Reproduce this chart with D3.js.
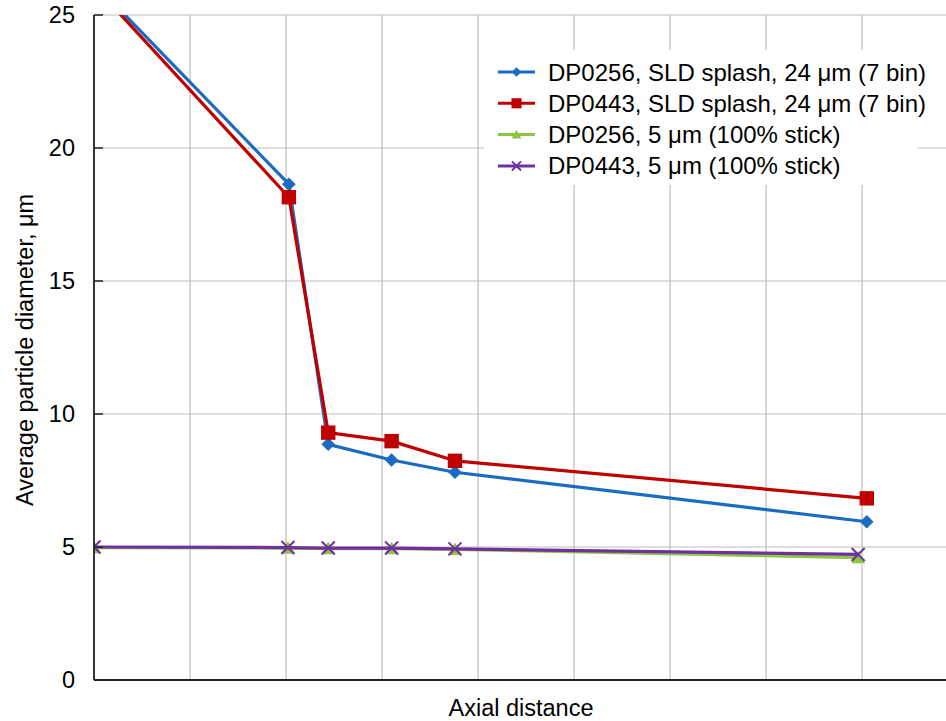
<!DOCTYPE html>
<html>
<head>
<meta charset="utf-8">
<script src="https://cdn.jsdelivr.net/npm/d3@7"></script>
<style>
  html, body { margin: 0; padding: 0; background: #fff; }
  svg { display: block; font-family: "Liberation Sans", Arial, sans-serif; }
</style>
</head>
<body>
<svg id="chart" width="946" height="721"></svg>
<script>
// ---- data ----
const seriesNames = [
  "DP0256, SLD splash, 24 μm (7 bin)",
  "DP0443, SLD splash, 24 μm (7 bin)",
  "DP0256, 5 μm (100% stick)",
  "DP0443, 5 μm (100% stick)"
];
const xSplash = [0, 2.03, 2.44, 3.10, 3.76, 8.05];
const xStick  = [0, 2.02, 2.44, 3.10, 3.76, 7.96];
const dp0256Splash = [26.2, 18.64, 8.86, 8.27, 7.81, 5.95];
const dp0443Splash = [26.1, 18.15, 9.30, 8.98, 8.24, 6.83];
const dp0256Stick  = [4.98, 4.96, 4.94, 4.94, 4.91, 4.60];
const dp0443Stick  = [5.00, 4.98, 4.96, 4.96, 4.93, 4.72];
const yTicks = [0, 5, 10, 15, 20, 25];
const xGrid = [1, 2, 3, 4, 5, 6, 7, 8];
const yLabel = "Average particle diameter, μm";
const xLabel = "Axial distance";

// ---- layout ----
const svg = d3.select("#chart");
const L = 94, R = 946, T = 15, B = 680;
const FS = 23.5;
const x = d3.scaleLinear().domain([0, (R - L) / 96]).range([L, R]);
const y = d3.scaleLinear().domain([0, 25]).range([B, T]);

const colors = ["#1a6bc1", "#c00000", "#8dc63f", "#7030a0"];
const series = [
  { name: seriesNames[0], xs: xSplash, ys: dp0256Splash, color: colors[0], marker: "diamond" },
  { name: seriesNames[1], xs: xSplash, ys: dp0443Splash, color: colors[1], marker: "square" },
  { name: seriesNames[2], xs: xStick,  ys: dp0256Stick,  color: colors[2], marker: "triangle" },
  { name: seriesNames[3], xs: xStick,  ys: dp0443Stick,  color: colors[3], marker: "cross" }
];

// grid
const grid = svg.append("g");
grid.selectAll("line.v").data(xGrid).join("line")
  .attr("x1", d => x(d)).attr("x2", d => x(d))
  .attr("y1", T).attr("y2", B)
  .attr("stroke", "#bdbdbd").attr("stroke-width", 1.2);
grid.selectAll("line.h").data(yTicks.filter(d => d > 0)).join("line")
  .attr("x1", L).attr("x2", R)
  .attr("y1", d => y(d)).attr("y2", d => y(d))
  .attr("stroke", "#bdbdbd").attr("stroke-width", 1.2);

// clip
svg.append("clipPath").attr("id", "plotclip")
  .append("rect").attr("x", L).attr("y", T).attr("width", R - L).attr("height", B - T);

const plot = svg.append("g").attr("clip-path", "url(#plotclip)");

function drawMarker(g, type, color, cx, cy, scale) {
  const s = scale || 1;
  if (type === "diamond") {
    const r = 6.8 * s;
    g.append("path").attr("d", `M${cx},${cy - r}L${cx + r},${cy}L${cx},${cy + r}L${cx - r},${cy}Z`).attr("fill", color);
  } else if (type === "square") {
    const r = 7.2 * s;
    g.append("rect").attr("x", cx - r).attr("y", cy - r).attr("width", 2 * r).attr("height", 2 * r).attr("fill", color);
  } else if (type === "triangle") {
    const r = 7 * s;
    g.append("path").attr("d", `M${cx},${cy - r}L${cx + r},${cy + r * 0.8}L${cx - r},${cy + r * 0.8}Z`).attr("fill", color);
  } else if (type === "cross") {
    const r = 6.5 * s;
    g.append("path").attr("d", `M${cx - r},${cy - r}L${cx + r},${cy + r}M${cx - r},${cy + r}L${cx + r},${cy - r}`)
      .attr("stroke", color).attr("stroke-width", 2).attr("fill", "none");
  }
}

const line = d3.line().x(d => x(d[0])).y(d => y(d[1]));
[series[2], series[3], series[0], series[1]].forEach(s => {
  const pts = s.xs.map((v, i) => [v, s.ys[i]]);
  plot.append("path").datum(pts).attr("d", line)
    .attr("fill", "none").attr("stroke", s.color).attr("stroke-width", 3.2).attr("stroke-linejoin", "round");
  const mg = plot.append("g");
  pts.forEach(p => drawMarker(mg, s.marker, s.color, x(p[0]), y(p[1])));
});

// axes
const yAxis = d3.axisLeft(y).tickValues(yTicks).tickSize(0).tickPadding(19);
const yg = svg.append("g").attr("transform", `translate(${L},0)`).call(yAxis);
yg.select(".domain").remove();
yg.selectAll("text").attr("font-size", FS).attr("fill", "#000")
  .attr("font-family", "Liberation Sans, Arial, sans-serif");
svg.append("g").selectAll("line").data(yTicks).join("line")
  .attr("x1", L).attr("x2", L + 9).attr("y1", d => y(d)).attr("y2", d => y(d))
  .attr("stroke", "#222").attr("stroke-width", 1.5);
svg.append("line").attr("x1", L).attr("x2", L).attr("y1", T).attr("y2", B)
  .attr("stroke", "#222").attr("stroke-width", 1.8);
svg.append("line").attr("x1", L).attr("x2", R).attr("y1", B).attr("y2", B)
  .attr("stroke", "#222").attr("stroke-width", 1.8);

// axis titles
svg.append("text").attr("x", 521).attr("y", 716).attr("text-anchor", "middle")
  .attr("font-size", FS).attr("fill", "#000").text(xLabel);
svg.append("text").attr("transform", `translate(33,${350}) rotate(-90)`).attr("text-anchor", "middle")
  .attr("font-size", FS).attr("fill", "#000").text(yLabel);

// legend
const lg = svg.append("g");
lg.append("rect").attr("x", 484).attr("y", 50).attr("width", 434).attr("height", 135).attr("fill", "#fff");
series.forEach((s, i) => {
  const cy = 72 + i * 31.3;
  lg.append("line").attr("x1", 498).attr("x2", 535).attr("y1", cy).attr("y2", cy)
    .attr("stroke", s.color).attr("stroke-width", 3);
  drawMarker(lg, s.marker, s.color, 516.5, cy, 0.7);
  lg.append("text").attr("x", 548).attr("y", cy + 8.5).attr("font-size", 24).attr("fill", "#000").text(s.name);
});
</script>
</body>
</html>
